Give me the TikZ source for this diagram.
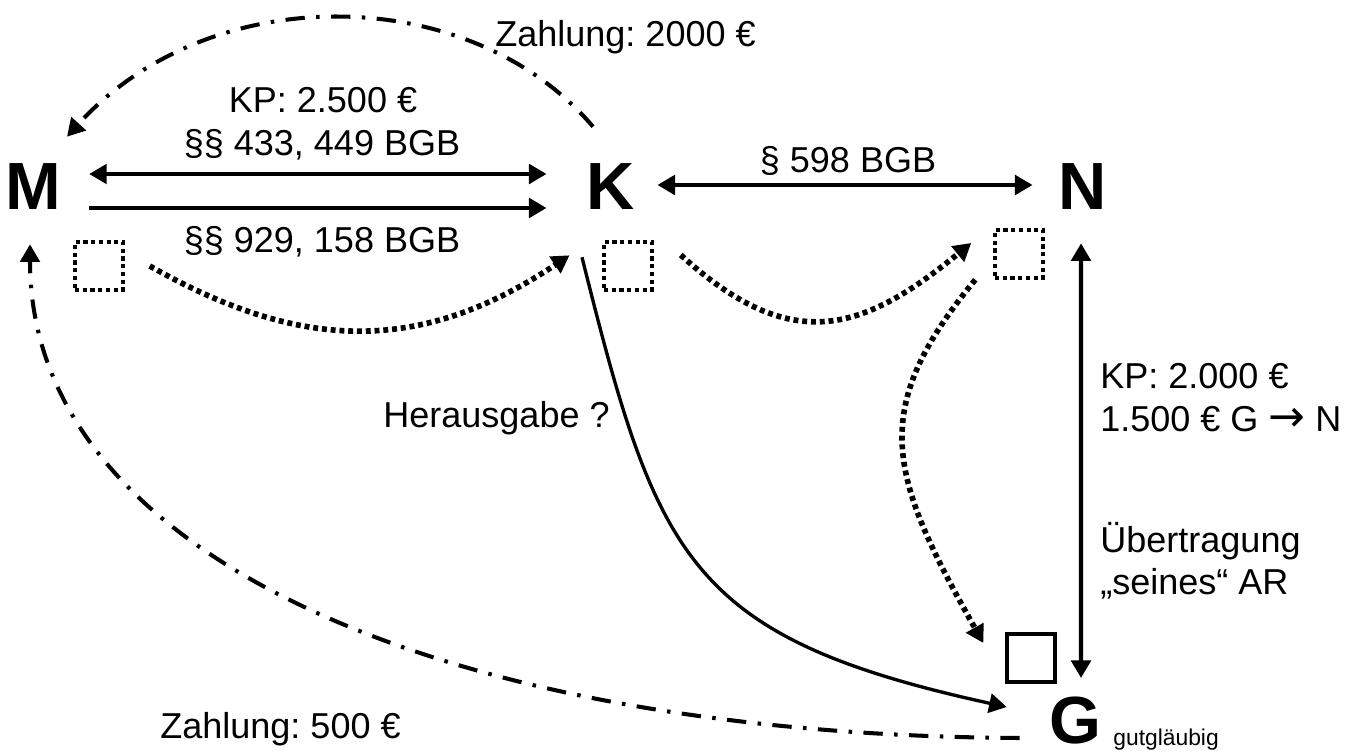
\documentclass[tikz,border=0pt]{standalone}
\usepackage{fontspec}
\setmainfont{Liberation Sans}
\newfontfamily\arrowfont{DejaVu Sans}
\usetikzlibrary{arrows.meta, positioning}
\frenchspacing
\tikzset{
	partynode/.style={
			font=\fontsize{38}{40}\selectfont\bfseries,
			inner sep=0pt
		},
	labeltext/.style={
			font=\fontsize{20.5}{24}\selectfont,
			inner sep=0pt
		},
	smalltext/.style={
			font=\fontsize{13}{15}\selectfont,
			inner sep=0pt
		}
}
\tikzset{
	boxnode/.style={
			shape=rectangle,
			draw=black,
			minimum width=0.96cm,
			minimum height=0.96cm,
			inner sep=0pt
		},
	dottedbox/.style={
			line width=2pt,
			dash pattern=on 2.4pt off 2pt
		},
	relarrow/.style={
			line width=2.4pt,
			-{Triangle[length=10pt,width=11pt]}
		},
	twoway/.style={
			relarrow,
			{Triangle[length=10pt,width=11pt]}-{Triangle[length=10pt,width=11pt]}
		},
	flowdots/.style={
			line width=3.2pt,
			dash pattern=on 2.8pt off 2.2pt,
			-{Triangle[length=10pt,width=11pt]}
		},
	payline/.style={
			line width=2.3pt,
			dash pattern=on 11pt off 6.5pt on 2pt off 6.5pt,
			-{Triangle[length=10pt,width=11pt]}
		}
}
\begin{document}
\begin{tikzpicture}[x=0.02cm, y=-0.02cm]
	\useasboundingbox (0,0) rectangle (1362,756);

	\node[partynode] (M) at (33,187) {M};
	\node[partynode] (K) at (611,187) {K};
	\node[partynode] (N) at (1083,187) {N};
	\node[partynode] (G) at (1075,721) {G};
	\node[smalltext, anchor=base west] (gg) at (1113,745) {gutgläubig};

	\node[boxnode, dottedbox] (mbox) at (99,266) {};
	\node[boxnode, dottedbox] (kbox) at (628,266) {};
	\node[boxnode, dottedbox] (nbox) at (1019,254) {};
	\node[boxnode, line width=1.9pt] (gbox) at (1031,658) {};

	\node[labeltext, anchor=base] (kp1) at (323,113) {KP: 2.500 €};
	\node[labeltext, anchor=base] (bgb1) at (322,156) {§§ 433, 449 BGB};
	\node[labeltext, anchor=base] (bgb2) at (322,253) {§§ 929, 158 BGB};
	\node[labeltext, anchor=base] (bgb3) at (848,173) {§ 598 BGB};
	\node[labeltext, anchor=base west] (pay1) at (495,47) {Zahlung: 2000 €};
	\node[labeltext, anchor=base west] (pay2) at (160,738) {Zahlung: 500 €};
	\node[labeltext, anchor=base east] (herg) at (610,428) {Herausgabe ?};
	\node[labeltext, anchor=base west] (kp2) at (1100,389) {KP: 2.000 €};
	\node[labeltext, anchor=base west] (kp3) at (1100,432) {1.500 € G {\arrowfont\fontsize{25}{25}\selectfont →} N};
	\node[labeltext, anchor=base west] (ar1) at (1100,552) {Übertragung};
	\node[labeltext, anchor=base west] (ar2) at (1100,594) {„seines“ AR};

	% Vertraege
	\draw[twoway] ([xshift=0.56cm, yshift=0.26cm]M.east) -- ([xshift=-0.8cm, yshift=0.26cm]K.west);
	\draw[relarrow] ([xshift=0.56cm, yshift=-0.42cm]M.east) -- ([xshift=-0.8cm, yshift=-0.42cm]K.west);
	\draw[twoway] ([xshift=0.44cm, yshift=0.04cm]K.east) -- ([xshift=-0.52cm, yshift=0.04cm]N.west);
	\draw[twoway] ([xshift=-0.04cm, yshift=-0.66cm]N.south) -- ([xshift=0.12cm, yshift=0.38cm]G.north);

	% Besitz
	\draw[flowdots] ([xshift=0.5cm]mbox.east) .. controls +(150,85) and +(-150,100) .. ([xshift=-0.34cm, yshift=-0.9cm]K.south west);
	\draw[flowdots] ([xshift=0.54cm, yshift=0.22cm]kbox.east) .. controls +(110,100) and +(-110,90) .. ([xshift=-0.44cm, yshift=0.22cm]nbox.west);
	\draw[flowdots] ([xshift=-0.36cm]nbox.south west) .. controls +(-107,130) and +(-96,-170) .. ([xshift=-0.44cm, yshift=0.3cm]gbox.west);

	% Herausgabe
	\draw[line width=1.9pt, -{Triangle[length=10pt,width=11pt]}] ([xshift=-0.58cm, yshift=-0.94cm]K.south) .. controls +(75,300) and +(-320,-70) .. ([xshift=-0.84cm, yshift=0.28cm]G.west);

	% Zahlungen
	\draw[payline] ([xshift=-0.36cm, yshift=0.74cm]K.north) .. controls +(-123,-145) and +(143,-158) .. ([xshift=0.68cm, yshift=0.54cm]M.north);
	\draw[payline] ([xshift=-0.58cm, yshift=-0.34cm]G.west) .. controls +(-570,-3) and +(0,315) .. ([xshift=-0.06cm, yshift=-0.68cm]M.south);
\end{tikzpicture}
\end{document}
